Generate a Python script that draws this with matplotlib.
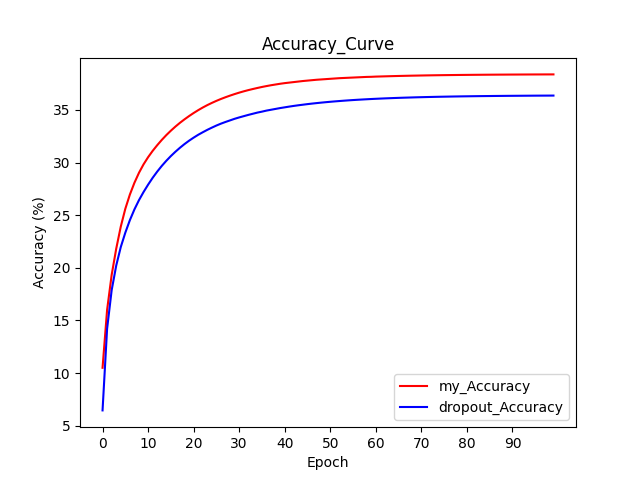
import matplotlib
matplotlib.use("Agg")
import matplotlib.pyplot as plt
import numpy as np

# accuracy per epoch
my_accuracy = [
    10.5, 16.0, 19.32, 21.81, 23.91, 25.61, 26.96, 28.08, 29.03, 29.83,
    30.51, 31.11, 31.65, 32.15, 32.61, 33.03, 33.42, 33.78, 34.11, 34.42,
    34.71, 34.98, 35.23, 35.46, 35.67, 35.865, 36.045, 36.21, 36.365, 36.51,
    36.645, 36.77, 36.885, 36.99, 37.09, 37.185, 37.27, 37.35, 37.42, 37.49,
    37.55, 37.6, 37.65, 37.7, 37.75, 37.79, 37.83, 37.87, 37.9, 37.93,
    37.96, 37.99, 38.02, 38.04, 38.06, 38.08, 38.1, 38.12, 38.14, 38.15,
    38.17, 38.182, 38.195, 38.207, 38.219, 38.23, 38.24, 38.25, 38.259, 38.267,
    38.275, 38.283, 38.29, 38.297, 38.303, 38.309, 38.314, 38.319, 38.324, 38.329,
    38.333, 38.337, 38.341, 38.344, 38.348, 38.351, 38.354, 38.357, 38.359, 38.362,
    38.364, 38.366, 38.368, 38.37, 38.372, 38.374, 38.375, 38.377, 38.378, 38.379,
]

dropout_accuracy = [
    6.45, 14.21, 17.87, 20.21, 21.97, 23.34, 24.53, 25.55, 26.43, 27.2,
    27.9, 28.55, 29.14, 29.68, 30.17, 30.62, 31.03, 31.41, 31.76, 32.08,
    32.37, 32.64, 32.88, 33.11, 33.32, 33.52, 33.7, 33.86, 34.01, 34.16,
    34.29, 34.41, 34.53, 34.64, 34.75, 34.84, 34.94, 35.02, 35.1, 35.18,
    35.25, 35.32, 35.385, 35.445, 35.5, 35.555, 35.605, 35.652, 35.696, 35.738,
    35.777, 35.814, 35.848, 35.881, 35.912, 35.941, 35.968, 35.993, 36.017, 36.04,
    36.061, 36.081, 36.1, 36.117, 36.134, 36.149, 36.164, 36.177, 36.19, 36.203,
    36.214, 36.225, 36.235, 36.245, 36.254, 36.262, 36.27, 36.278, 36.285, 36.292,
    36.298, 36.304, 36.31, 36.315, 36.32, 36.324, 36.329, 36.333, 36.337, 36.341,
    36.344, 36.347, 36.35, 36.353, 36.356, 36.359, 36.361, 36.363, 36.365, 36.367,
]

epochs = np.arange(len(my_accuracy))
xtick_values = list(range(0, 100, 10))

plt.figure(figsize=(6.4, 4.8), dpi=100)
plt.plot(epochs, my_accuracy, color="red", label="my_Accuracy")
plt.plot(epochs, dropout_accuracy, color="blue", label="dropout_Accuracy")
plt.title("Accuracy_Curve")
plt.xlabel("Epoch")
plt.ylabel("Accuracy (%)")
plt.xticks(xtick_values)
plt.legend(loc="lower right")
plt.savefig("out.png")
